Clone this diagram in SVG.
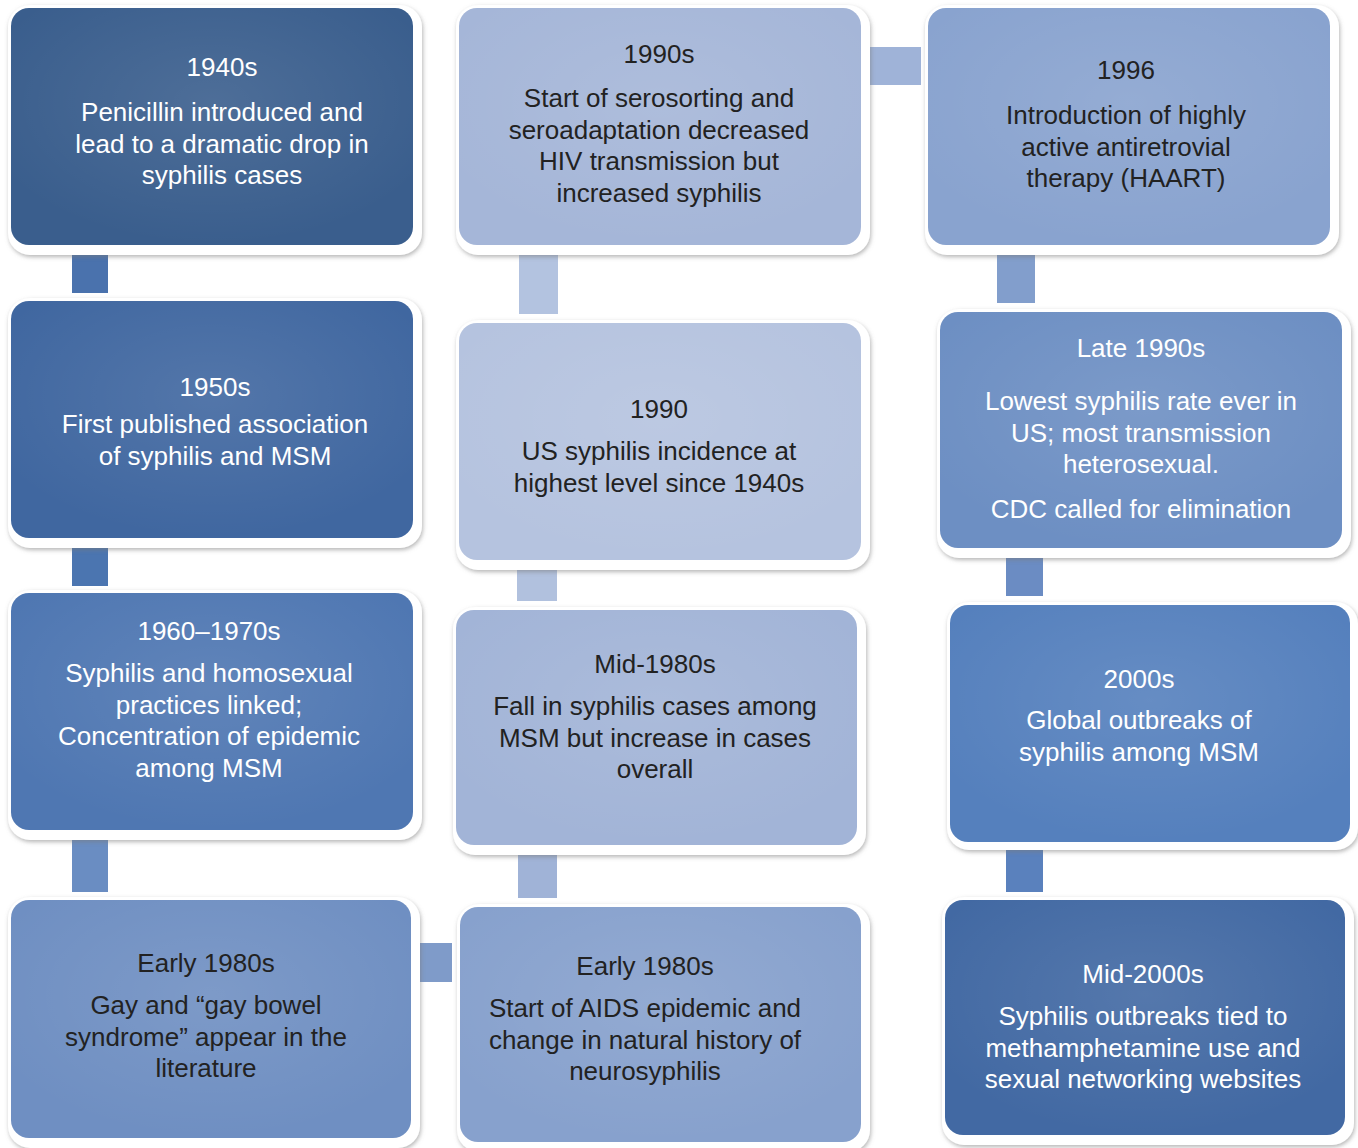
<svg xmlns="http://www.w3.org/2000/svg" width="1358" height="1148" viewBox="0 0 1358 1148">
<defs>
<filter id="sh" x="-5%" y="-5%" width="115%" height="120%">
<feDropShadow dx="1" dy="2" stdDeviation="2" flood-color="#7a7a7a" flood-opacity="0.55"/>
</filter>
<radialGradient id="gloss" cx="50%" cy="40%" r="60%">
<stop offset="0" stop-color="#ffffff" stop-opacity="0.1"/>
<stop offset="1" stop-color="#ffffff" stop-opacity="0"/>
</radialGradient>
</defs>
<style>
.frame{fill:#ffffff;filter:url(#sh)}
.gl{fill:url(#gloss)}
text{font-family:"Liberation Sans",Arial,Helvetica,sans-serif;font-size:26px;text-anchor:middle}
.w{fill:#ffffff}
.d{fill:#222222}
</style>
<rect width="1358" height="1148" fill="#ffffff"/>
<g id="connectors">
<rect x="72" y="253" width="36" height="40" fill="#4a72ad"/>
<rect x="72" y="546" width="36" height="40" fill="#4b75b0"/>
<rect x="72" y="837" width="36" height="55" fill="#6a8dc2"/>
<rect x="420" y="943" width="32" height="39" fill="#7f9bc9"/>
<rect x="518" y="853" width="39" height="45" fill="#a0b3d7"/>
<rect x="517" y="569" width="40" height="32" fill="#b1c1de"/>
<rect x="519" y="253" width="39" height="61" fill="#b3c3e0"/>
<rect x="869" y="47" width="52" height="38" fill="#9fb3d8"/>
<rect x="997" y="253" width="38" height="50" fill="#829ecc"/>
<rect x="1006" y="556" width="37" height="40" fill="#6b8cc3"/>
<rect x="1006" y="848" width="37" height="44" fill="#5a81bd"/>
</g>
<g id="n1940s">
<rect class="frame" x="8" y="5" width="414" height="250" rx="22"/>
<rect x="11" y="8" width="402" height="237" rx="18" fill="#3a5e8d"/>
<rect class="gl" x="11" y="8" width="402" height="237" rx="18"/>
<text class="w" x="222" y="76">1940s</text>
<text class="w" x="222" y="121">Penicillin introduced and</text>
<text class="w" x="222" y="152.5">lead to a dramatic drop in</text>
<text class="w" x="222" y="184">syphilis cases</text>
</g>
<g id="n1950s">
<rect class="frame" x="8" y="298" width="414" height="250" rx="22"/>
<rect x="11" y="301" width="402" height="237" rx="18" fill="#4067a0"/>
<rect class="gl" x="11" y="301" width="402" height="237" rx="18"/>
<text class="w" x="215" y="396">1950s</text>
<text class="w" x="215" y="433">First published association</text>
<text class="w" x="215" y="464.5">of syphilis and MSM</text>
</g>
<g id="n1960s">
<rect class="frame" x="8" y="590" width="414" height="250" rx="22"/>
<rect x="11" y="593" width="402" height="237" rx="18" fill="#4f77b2"/>
<rect class="gl" x="11" y="593" width="402" height="237" rx="18"/>
<text class="w" x="209" y="640">1960–1970s</text>
<text class="w" x="209" y="682">Syphilis and homosexual</text>
<text class="w" x="209" y="713.5">practices linked;</text>
<text class="w" x="209" y="745">Concentration of epidemic</text>
<text class="w" x="209" y="776.5">among MSM</text>
</g>
<g id="nEarly1980sA">
<rect class="frame" x="8" y="897" width="412" height="251" rx="22"/>
<rect x="11" y="900" width="400" height="238" rx="18" fill="#6f8fc2"/>
<rect class="gl" x="11" y="900" width="400" height="238" rx="18"/>
<text class="d" x="206" y="972">Early 1980s</text>
<text class="d" x="206" y="1014">Gay and “gay bowel</text>
<text class="d" x="206" y="1045.5">syndrome” appear in the</text>
<text class="d" x="206" y="1077">literature</text>
</g>
<g id="nEarly1980sB">
<rect class="frame" x="457" y="904" width="413" height="248" rx="22"/>
<rect x="460" y="907" width="401" height="235" rx="18" fill="#87a1cd"/>
<rect class="gl" x="460" y="907" width="401" height="235" rx="18"/>
<text class="d" x="645" y="975">Early 1980s</text>
<text class="d" x="645" y="1017">Start of AIDS epidemic and</text>
<text class="d" x="645" y="1048.5">change in natural history of</text>
<text class="d" x="645" y="1080">neurosyphilis</text>
</g>
<g id="nMid1980s">
<rect class="frame" x="453" y="607" width="413" height="248" rx="22"/>
<rect x="456" y="610" width="401" height="235" rx="18" fill="#a2b4d7"/>
<rect class="gl" x="456" y="610" width="401" height="235" rx="18"/>
<text class="d" x="655" y="673">Mid-1980s</text>
<text class="d" x="655" y="715">Fall in syphilis cases among</text>
<text class="d" x="655" y="746.5">MSM but increase in cases</text>
<text class="d" x="655" y="778">overall</text>
</g>
<g id="n1990">
<rect class="frame" x="456" y="320" width="414" height="250" rx="22"/>
<rect x="459" y="323" width="402" height="237" rx="18" fill="#b5c3df"/>
<rect class="gl" x="459" y="323" width="402" height="237" rx="18"/>
<text class="d" x="659" y="418">1990</text>
<text class="d" x="659" y="460">US syphilis incidence at</text>
<text class="d" x="659" y="491.5">highest level since 1940s</text>
</g>
<g id="n1990s">
<rect class="frame" x="456" y="5" width="414" height="250" rx="22"/>
<rect x="459" y="8" width="402" height="237" rx="18" fill="#a5b6d8"/>
<rect class="gl" x="459" y="8" width="402" height="237" rx="18"/>
<text class="d" x="659" y="63">1990s</text>
<text class="d" x="659" y="107">Start of serosorting and</text>
<text class="d" x="659" y="138.5">seroadaptation decreased</text>
<text class="d" x="659" y="170">HIV transmission but</text>
<text class="d" x="659" y="201.5">increased syphilis</text>
</g>
<g id="n1996">
<rect class="frame" x="925" y="5" width="414" height="250" rx="22"/>
<rect x="928" y="8" width="402" height="237" rx="18" fill="#89a3cf"/>
<rect class="gl" x="928" y="8" width="402" height="237" rx="18"/>
<text class="d" x="1126" y="79">1996</text>
<text class="d" x="1126" y="124">Introduction of highly</text>
<text class="d" x="1126" y="155.5">active antiretrovial</text>
<text class="d" x="1126" y="187">therapy (HAART)</text>
</g>
<g id="nLate1990s">
<rect class="frame" x="937" y="309" width="414" height="249" rx="22"/>
<rect x="940" y="312" width="402" height="236" rx="18" fill="#6d8fc3"/>
<rect class="gl" x="940" y="312" width="402" height="236" rx="18"/>
<text class="w" x="1141" y="357">Late 1990s</text>
<text class="w" x="1141" y="410">Lowest syphilis rate ever in</text>
<text class="w" x="1141" y="441.5">US; most transmission</text>
<text class="w" x="1141" y="473">heterosexual.</text>
<text class="w" x="1141" y="518">CDC called for elimination</text>
</g>
<g id="n2000s">
<rect class="frame" x="947" y="602" width="411" height="248" rx="22"/>
<rect x="950" y="605" width="400" height="237" rx="18" fill="#5580bd"/>
<rect class="gl" x="950" y="605" width="400" height="237" rx="18"/>
<text class="w" x="1139" y="688">2000s</text>
<text class="w" x="1139" y="729">Global outbreaks of</text>
<text class="w" x="1139" y="760.5">syphilis among MSM</text>
</g>
<g id="nMid2000s">
<rect class="frame" x="942" y="897" width="412" height="248" rx="22"/>
<rect x="945" y="900" width="400" height="235" rx="18" fill="#4269a3"/>
<rect class="gl" x="945" y="900" width="400" height="235" rx="18"/>
<text class="w" x="1143" y="983">Mid-2000s</text>
<text class="w" x="1143" y="1025">Syphilis outbreaks tied to</text>
<text class="w" x="1143" y="1056.5">methamphetamine use and</text>
<text class="w" x="1143" y="1088">sexual networking websites</text>
</g>
</svg>
